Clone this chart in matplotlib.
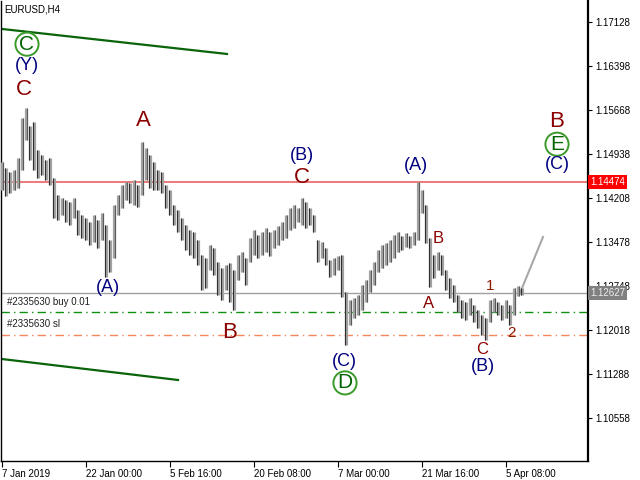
import numpy as np
import matplotlib.pyplot as plt
import matplotlib.transforms as mtransforms

# ==========================================
# DATA (one entry ~ 12h of H4 bars)
# ==========================================
symbol = 'EURUSD,H4'

bar_high = [1.1481, 1.1471, 1.1464, 1.1467, 1.1487, 1.1553, 1.1570, 1.1541, 1.1547, 1.1500,
            1.1492, 1.1484, 1.1487, 1.1454, 1.1426, 1.1421, 1.1418, 1.1414, 1.1421, 1.1401,
            1.1393, 1.1388, 1.1381, 1.1393, 1.1384, 1.1396, 1.1376, 1.1351, 1.1409, 1.1426,
            1.1442, 1.1447, 1.1446, 1.1451, 1.1442, 1.1514, 1.1504, 1.1492, 1.1481, 1.1467,
            1.1464, 1.1442, 1.1434, 1.1409, 1.1401, 1.1388, 1.1376, 1.1368, 1.1364, 1.1351,
            1.1326, 1.1321, 1.1343, 1.1338, 1.1315, 1.1305, 1.1310, 1.1313, 1.1301, 1.1326,
            1.1331, 1.1321, 1.1354, 1.1368, 1.1359, 1.1364, 1.1371, 1.1364, 1.1368, 1.1374,
            1.1381, 1.1393, 1.1404, 1.1409, 1.1404, 1.1421, 1.1414, 1.1404, 1.1393, 1.1351,
            1.1348, 1.1338, 1.1318, 1.1321, 1.1325, 1.1326, 1.1265, 1.1252, 1.1255, 1.1260,
            1.1276, 1.1285, 1.1301, 1.1315, 1.1334, 1.1343, 1.1346, 1.1351, 1.1359, 1.1364,
            1.1358, 1.1363, 1.1358, 1.1364, 1.1447, 1.1434, 1.1409, 1.1354, 1.1326, 1.1331,
            1.1326, 1.1301, 1.1288, 1.1276, 1.1260, 1.1252, 1.1248, 1.1255, 1.1243, 1.1235,
            1.1227, 1.1222, 1.1252, 1.1255, 1.1248, 1.1243, 1.1252, 1.1243, 1.1271, 1.1275,
            1.1271]
bar_low = [1.1434, 1.1424, 1.1429, 1.1434, 1.1437, 1.1467, 1.1517, 1.1484, 1.1467, 1.1454,
           1.1459, 1.1451, 1.1442, 1.1388, 1.1384, 1.1393, 1.1381, 1.1376, 1.1388, 1.1359,
           1.1354, 1.1351, 1.1343, 1.1348, 1.1338, 1.1351, 1.1290, 1.1298, 1.1321, 1.1393,
           1.1404, 1.1418, 1.1413, 1.1409, 1.1406, 1.1426, 1.1451, 1.1437, 1.1434, 1.1434,
           1.1429, 1.1404, 1.1393, 1.1376, 1.1364, 1.1351, 1.1334, 1.1326, 1.1321, 1.1310,
           1.1268, 1.1271, 1.1301, 1.1293, 1.1260, 1.1252, 1.1268, 1.1248, 1.1235, 1.1285,
           1.1298, 1.1276, 1.1315, 1.1326, 1.1321, 1.1326, 1.1331, 1.1325, 1.1338, 1.1343,
           1.1351, 1.1354, 1.1368, 1.1371, 1.1381, 1.1376, 1.1371, 1.1376, 1.1364, 1.1315,
           1.1321, 1.1310, 1.1290, 1.1293, 1.1301, 1.1256, 1.1177, 1.1210, 1.1222, 1.1227,
           1.1235, 1.1248, 1.1265, 1.1276, 1.1298, 1.1305, 1.1310, 1.1315, 1.1321, 1.1331,
           1.1334, 1.1339, 1.1338, 1.1343, 1.1351, 1.1396, 1.1346, 1.1273, 1.1288, 1.1301,
           1.1293, 1.1268, 1.1255, 1.1248, 1.1232, 1.1222, 1.1219, 1.1227, 1.1215, 1.1205,
           1.1194, 1.1185, 1.1215, 1.1232, 1.1227, 1.1219, 1.1222, 1.1210, 1.1227, 1.1258,
           1.1260]

date_labels = ['7 Jan 2019', '22 Jan 00:00', '5 Feb 16:00', '20 Feb 08:00',
               '7 Mar 00:00', '21 Mar 16:00', '5 Apr 08:00']
date_bar = [0, 21, 42, 63, 84, 105, 126]

price_ticks = [1.17128, 1.16398, 1.15668, 1.14938, 1.14208,
               1.13478, 1.12748, 1.12018, 1.11288, 1.10558]

level_red = 1.14474
last_price = 1.12627
order_buy = 1.1231
order_sl = 1.1194

# trend lines and forecast (bar index, price)
upper_trend_x = [0, 56.25]
upper_trend_y = [1.17012, 1.16597]
lower_trend_x = [0, 44]
lower_trend_y = [1.11536, 1.11188]
forecast_x = [129.5, 135.25]
forecast_y = [1.12630, 1.13561]

# wave labels: text, bar index, price, kind
wave_text = ['C', '(Y)', 'C', 'A', '(A)', 'B', '(B)', 'C', '(C)', 'D',
             '(A)', 'B', 'A', '1', '2', 'C', '(B)', 'B', 'E', '(C)']
wave_x = [6.25, 6.25, 5.5, 35.25, 26.5, 57, 75, 75, 85.5, 85.75,
          103.5, 109, 106.75, 122, 127.5, 120, 120.25, 138.75, 138.75, 138.75]
wave_y = [1.1676, 1.1640, 1.1600, 1.1550, 1.1273, 1.1197, 1.1491, 1.1455, 1.1149, 1.1114,
          1.1474, 1.1354, 1.1246, 1.1275, 1.1197, 1.1170, 1.1142, 1.1547, 1.1510, 1.1477]
wave_kind = ['circle', 'blue', 'red', 'red', 'blue', 'red', 'blue', 'red', 'blue', 'circle',
             'blue', 'small', 'small', 'num', 'num', 'small', 'blue', 'red', 'circle', 'blue']

# ==========================================
# PLOT
# ==========================================
fig = plt.figure(figsize=(6.4, 4.8), dpi=100)
ax = fig.add_axes([1 / 640, 19 / 480, 587 / 640, 460 / 480])

x = np.arange(len(bar_high))
hi = np.array(bar_high)
lo = np.array(bar_low)
mid = (hi + lo) / 2
up = np.r_[True, mid[1:] >= mid[:-1]]
# light body + dark core to imitate the dense MT4 bar texture
ax.vlines(x, lo, hi, colors='#a2a2a2', linewidth=2.3, zorder=3)
ax.vlines(x + np.where(up, 0.3, -0.3), lo, hi,
          colors=np.where(up, '#5a5a5a', '#2e2e2e'), linewidth=0.8, zorder=3)

# horizontal levels
ax.axhline(level_red, color='#f07878', lw=1.4, zorder=2)
ax.axhline(last_price, color='#a0a0a0', lw=1.0, zorder=2)
ax.axhline(order_buy, color='#109010', lw=1.0, ls=(0, (6, 3, 1, 3)), zorder=2)
ax.axhline(order_sl, color='#f4875e', lw=1.0, ls=(0, (6, 3, 1, 3)), zorder=2)
ax.text(1.2, order_buy + 0.0009, '#2335630 buy 0.01', fontsize=7,
        family='Liberation Sans', color='#202020', va='bottom')
ax.text(1.2, order_sl + 0.0009, '#2335630 sl', fontsize=7,
        family='Liberation Sans', color='#202020', va='bottom')

# trend lines and forecast
ax.plot(upper_trend_x, upper_trend_y, color='#0a640a', lw=1.6, zorder=2)
ax.plot(lower_trend_x, lower_trend_y, color='#0a640a', lw=1.6, zorder=2)
ax.plot(forecast_x, forecast_y, color='#a8a8a8', lw=1.5, zorder=2)

# wave labels
estilos = {
    'red': dict(color='#8b0000', fontsize=16),
    'small': dict(color='#8b0000', fontsize=12),
    'num': dict(color='#8b1a00', fontsize=11),
    'blue': dict(color='#000080', fontsize=13),
    'circle': dict(color='#006400', fontsize=15),
}
for t, xi, yi, k in zip(wave_text, wave_x, wave_y, wave_kind):
    kw = dict(estilos[k])
    if k == 'circle':
        kw['bbox'] = dict(boxstyle='circle,pad=0.1', fc='none', ec='#3a9a2a', lw=1.4)
    ax.text(xi, yi, t, ha='center', va='center', family='Liberation Sans', zorder=5, **kw)

ax.text(0.006, 0.992, symbol, transform=ax.transAxes, fontsize=7,
        family='Liberation Sans', va='top', ha='left')

# axes
ax.set_xlim(-0.25, 146.5)
ax.set_ylim(1.09844, 1.17476)
ax.yaxis.tick_right()
ax.set_yticks(price_ticks)
ax.set_yticklabels([f'{v:.5f}' for v in price_ticks], fontsize=7, family='Liberation Sans')
ax.tick_params(axis='y', length=3, width=0.8, pad=2)
ax.set_xticks(date_bar)
ax.set_xticklabels(date_labels, fontsize=7, family='Liberation Sans', ha='left')
ax.tick_params(axis='x', length=4, width=0.8, pad=2)
for s in ax.spines.values():
    s.set_linewidth(1.0)
ax.spines['right'].set_linewidth(1.6)
ax.spines['top'].set_visible(False)

# price labels on the right axis (the grey one sits over the 1.12748 tick, as in MT4)
trans = mtransforms.blended_transform_factory(ax.transAxes, ax.transData)
ax.text(1.004, level_red, f'{level_red:.5f}', transform=trans, fontsize=7,
        family='Liberation Sans', color='white', va='center', ha='left', zorder=10,
        bbox=dict(boxstyle='square,pad=0.2', fc='#ff0000', ec='none'), clip_on=False)
ax.text(1.004, last_price, f'{last_price:.5f}', transform=trans, fontsize=7,
        family='Liberation Sans', color='#eeeeee', va='center', ha='left', zorder=10,
        bbox=dict(boxstyle='square,pad=0.2', fc='#808080', ec='none'), clip_on=False)

fig.savefig('out.png', dpi=100)
